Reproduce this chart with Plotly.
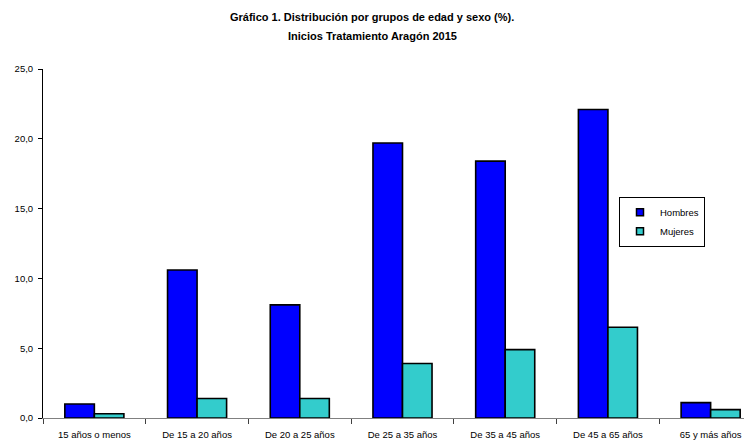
import plotly.graph_objects as go

categorias = ["15 años o menos", "De 15 a 20 años", "De 20 a 25 años", "De 25 a 35 años",
              "De 35 a 45 años", "De 45 a 65 años", "65 y más años"]
hombres = [1.0, 10.6, 8.1, 19.7, 18.4, 22.1, 1.1]
mujeres = [0.3, 1.4, 1.4, 3.9, 4.9, 6.5, 0.6]
series = ["Hombres", "Mujeres"]
colores = ["#0000FF", "#33CCCC"]
y_ticks = [0, 5, 10, 15, 20, 25]

FONT = "Liberation Sans, Arial, sans-serif"

# page offset of 8px (body margin) is compensated in the margins
PW = 719.0   # plot width in px
PH = 349.5   # plot height in px

fig = go.Figure()
for nombre, valores, color in zip(series, [hombres, mujeres], colores):
    fig.add_trace(go.Bar(x=categorias, y=valores, name=nombre, showlegend=False,
                         marker=dict(color=color, line=dict(color="black", width=1.6))))
# legend entries with small square keys
for nombre, color in zip(series, colores):
    fig.add_trace(go.Scatter(x=[None], y=[None], name=nombre, mode="markers",
                             marker=dict(symbol="square", size=7, color=color,
                                         line=dict(color="black", width=1.5))))

fig.update_layout(
    width=754, height=444,
    margin=dict(l=35, r=0, t=61, b=33.5, autoexpand=False),
    paper_bgcolor="white", plot_bgcolor="white",
    font=dict(family=FONT, size=10, color="black"),
    separators=", ",
    barmode="group", bargap=0.425, bargroupgap=0,
    showlegend=True,
    legend=dict(x=(619 - 43) / PW, y=1 - (197 - 69) / PH, xanchor="left", yanchor="top",
                bgcolor="white", bordercolor="black", borderwidth=1,
                itemwidth=30, font=dict(size=9.5, family=FONT), tracegroupgap=0),
    annotations=[
        dict(text="<b>Gráfico 1. Distribución por grupos de edad y sexo (%).</b>",
             xref="paper", yref="paper", x=(372 - 43) / PW, y=1 + (69 - 17) / PH,
             xanchor="center", yanchor="middle", showarrow=False,
             font=dict(size=11, family=FONT)),
        dict(text="<b>Inicios Tratamiento Aragón 2015</b>",
             xref="paper", yref="paper", x=(372 - 43) / PW, y=1 + (69 - 36) / PH,
             xanchor="center", yanchor="middle", showarrow=False,
             font=dict(size=11, family=FONT)),
    ],
)

fig.update_xaxes(
    range=[-0.5, 6.5],
    showline=True, linecolor="#808080", linewidth=1,
    ticks="outside", tickson="boundaries", ticklen=5, tickcolor="#404040",
    ticklabelstandoff=8,
    showgrid=False, zeroline=False, automargin=False,
    tickfont=dict(size=9.5),
)
fig.update_yaxes(
    range=[0, 25], tickvals=y_ticks, tickformat=".1f",
    showline=True, linecolor="black", linewidth=1,
    ticks="outside", ticklen=4, tickcolor="black",
    ticklabelstandoff=3,
    showgrid=False, zeroline=False, automargin=False,
    tickfont=dict(size=9.5),
)

fig.write_html("out.html")
